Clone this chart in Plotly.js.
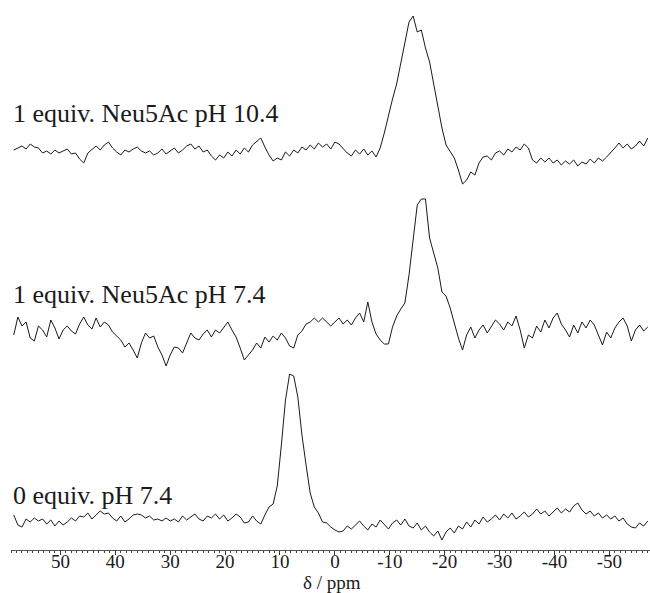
<!DOCTYPE html>
<html>
<head>
<meta charset="utf-8">
<script src="https://cdn.plot.ly/plotly-3.0.1.min.js"></script>
<style>
  html, body { margin: 0; padding: 0; background: #fff; }
  #chart { width: 650px; height: 593px; }
</style>
</head>
<body>
<div id="chart"></div>
<script>
// Chemical shift axis (ppm), shared by the three spectra
const ppm = [
  58.5, 57.75, 57, 56.25, 55.5, 54.75, 54, 53.25, 52.5, 51.75,
  51, 50.25, 49.5, 48.75, 48, 47.25, 46.5, 45.75, 45, 44.25,
  43.5, 42.75, 42, 41.25, 40.5, 39.75, 39, 38.25, 37.5, 36.75,
  36, 35.25, 34.5, 33.75, 33, 32.25, 31.5, 30.75, 30, 29.25,
  28.5, 27.75, 27, 26.25, 25.5, 24.75, 24, 23.25, 22.5, 21.75,
  21, 20.25, 19.5, 18.75, 18, 17.25, 16.5, 15.75, 15, 14.25,
  13.5, 12.75, 12, 11.25, 10.5, 9.75, 9, 8.25, 7.5, 6.75,
  6, 5.25, 4.5, 3.75, 3, 2.25, 1.5, 0.75, 0, -0.75,
  -1.5, -2.25, -3, -3.75, -4.5, -5.25, -6, -6.75, -7.5, -8.25,
  -9, -9.75, -10.5, -11.25, -12, -12.75, -13.5, -14.25, -15, -15.75,
  -16.5, -17.25, -18, -18.75, -19.5, -20.25, -21, -21.75, -22.5, -23.25,
  -24, -24.75, -25.5, -26.25, -27, -27.75, -28.5, -29.25, -30, -30.75,
  -31.5, -32.25, -33, -33.75, -34.5, -35.25, -36, -36.75, -37.5, -38.25,
  -39, -39.75, -40.5, -41.25, -42, -42.75, -43.5, -44.25, -45, -45.75,
  -46.5, -47.25, -48, -48.75, -49.5, -50.25, -51, -51.75, -52.5, -53.25,
  -54, -54.75, -55.5, -56.25, -57
];

// Intensities (arbitrary units) for each sample
const neu5acPH104 = [
  0, 2, 4, 1, 6, 3, 2, -3, -1, -4,
  0, -3, -1, 1, -4, -3, -9, -13, -3, 1,
  4, 0, 5, 8, 2, -2, -5, 0, -2, 1,
  3, -1, -3, -1, -5, -3, 1, -4, -1, 2,
  -3, 0, 4, 6, 1, 4, -2, 0, -6, -10,
  -5, -8, -2, -6, 0, -4, 2, -2, 5, 9,
  12, 3, -5, -11, -8, -10, -2, -6, 0, -3,
  3, 0, 5, 1, 7, 3, 6, 1, 8, 6,
  1, -3, -6, 0, -4, 1, -5, -1, -7, 2,
  17, 35, 51, 66, 86, 108, 128, 134, 118, 120,
  102, 88, 65, 45, 22, 5, -2, -8, -20, -34,
  -30, -22, -25, -13, -7, -6, -10, -3, -1, -5,
  1, -2, 3, 0, 6, 2, -10, -13, -8, -12,
  -8, -13, -10, -15, -11, -14, -10, -16, -12, -14,
  -9, -13, -8, -11, -7, -3, 2, 7, 2, 6,
  1, 4, 9, 4, 12
];

const neu5acPH74 = [
  -10, 8, -1, 3, -13, -16, -1, -5, -12, 5,
  -3, -14, -5, -1, -6, -9, 1, 8, 0, -4,
  7, -2, 3, 0, -7, -11, -15, -22, -18, -25,
  -33, -18, -8, -13, -11, -22, -30, -41, -30, -22,
  -23, -28, -17, -8, -13, -15, -9, -5, -12, -5,
  -8, -2, 3, -5, -12, -23, -35, -30, -25, -18,
  -23, -12, -17, -11, -15, -8, -13, -21, -23, -10,
  -6, 1, 3, 7, 3, 7, 3, -1, 3, 7,
  1, 5, 0, 7, 12, 3, 23, 3, -9, -15,
  -19, -19, -2, 9, 16, 22, 50, 87, 120, 126,
  126, 87, 73, 57, 33, 29, 17, 2, -13, -25,
  -10, -2, -13, -5, 0, -8, -1, 5, 1, -5,
  3, -1, 9, -5, -23, -10, -13, -1, -7, 5,
  -3, 7, 12, 1, -5, -12, 0, -8, 3, -3,
  5, 0, -10, -20, -7, -13, -3, 3, 7, -1,
  -16, -5, 0, -6, -2
];

const noLigandPH74 = [
  5, -5, -7, 1, -2, 2, -1, 1, -4, 0,
  -6, -1, -5, -2, 2, -1, 4, 3, 7, 1,
  5, 9, 6, 7, 2, -1, 4, -2, 1, 5,
  6, 5, 2, 4, 0, 1, -1, 2, -1, 1,
  -2, 4, 0, 3, 6, 1, -1, 4, 2, 6,
  1, 5, -1, 2, 6, 3, -3, -2, 4, -1,
  -4, 5, 13, 16, 34, 75, 120, 146, 144, 123,
  85, 55, 27, 13, 7, -2, -3, -7, -10, -12,
  -11, -6, -9, -5, -1, -6, -10, -4, -7, 0,
  -4, -9, -3, 0, -5, 1, -6, -8, -3, -10,
  -6, -12, -16, -11, -20, -12, -8, -13, -6, -9,
  -2, -7, 0, -4, 3, -2, 1, 5, 0, 6,
  2, 7, 1, 4, 8, 3, 6, 11, 6, 9,
  4, 8, 12, 7, 11, 8, 14, 17, 10, 6,
  9, 4, 7, 2, 5, 1, 4, -1, 2, -4,
  -7, -8, -3, -6, -1
];

const sampleLabels = ['1 equiv. Neu5Ac pH 10.4', '1 equiv. Neu5Ac pH 7.4', '0 equiv. pH 7.4'];
const axisTitle = 'δ / ppm';
const tickVals = [50, 40, 30, 20, 10, 0, -10, -20, -30, -40, -50];
const tickText = ['50', '40', '30', '20', '10', '0', '-10', '-20', '-30', '-40', '-50'];

// Vertical stacking of the spectra and label heights
const stackOffsets = [400, 225, 30];
const labelHeights = [437, 256, 55];
const spectra = [neu5acPH104, neu5acPH74, noLigandPH74];

const serif = 'Liberation Serif, Times New Roman, serif';
const ink = '#1a1a1a';

const traces = spectra.map((vals, k) => ({
  type: 'scatter',
  mode: 'lines',
  x: ppm,
  y: vals.map(v => v + stackOffsets[k]),
  line: { color: ink, width: 1 },
  hoverinfo: 'skip',
  showlegend: false
}));

const annotations = sampleLabels.map((txt, k) => ({
  text: txt,
  xref: 'paper', x: 0, xanchor: 'left',
  yref: 'y', y: labelHeights[k], yanchor: 'middle',
  showarrow: false,
  font: { family: serif, size: 26, color: ink }
}));

// Axis title, set just under the tick labels
annotations.push({
  text: axisTitle,
  xref: 'x', x: 0.5, xanchor: 'center',
  yref: 'paper', y: 0, yanchor: 'middle', yshift: -32,
  showarrow: false,
  font: { family: serif, size: 19, color: ink }
});

const layout = {
  width: 650,
  height: 593,
  margin: { l: 11, r: 0, t: 0, b: 43 },
  paper_bgcolor: '#ffffff',
  plot_bgcolor: '#ffffff',
  showlegend: false,
  xaxis: {
    range: [59.0, -57.4],
    showline: true,
    linecolor: '#555',
    linewidth: 1,
    ticks: 'outside',
    ticklen: 4,
    tickwidth: 1,
    tickcolor: '#333',
    tickmode: 'array',
    tickvals: tickVals,
    ticktext: tickText,
    ticklabelstandoff: -10,
    tickfont: { family: serif, size: 19, color: ink },
    minor: { tickmode: 'linear', tick0: 0, dtick: 1, ticks: 'outside', ticklen: 2, tickwidth: 1, tickcolor: '#444', showgrid: false },
    showgrid: false,
    zeroline: false
  },
  yaxis: {
    range: [0, 550],
    visible: false,
    showgrid: false,
    zeroline: false
  },
  annotations: annotations
};

Plotly.newPlot('chart', traces, layout, { displayModeBar: false, staticPlot: true });
</script>
</body>
</html>
